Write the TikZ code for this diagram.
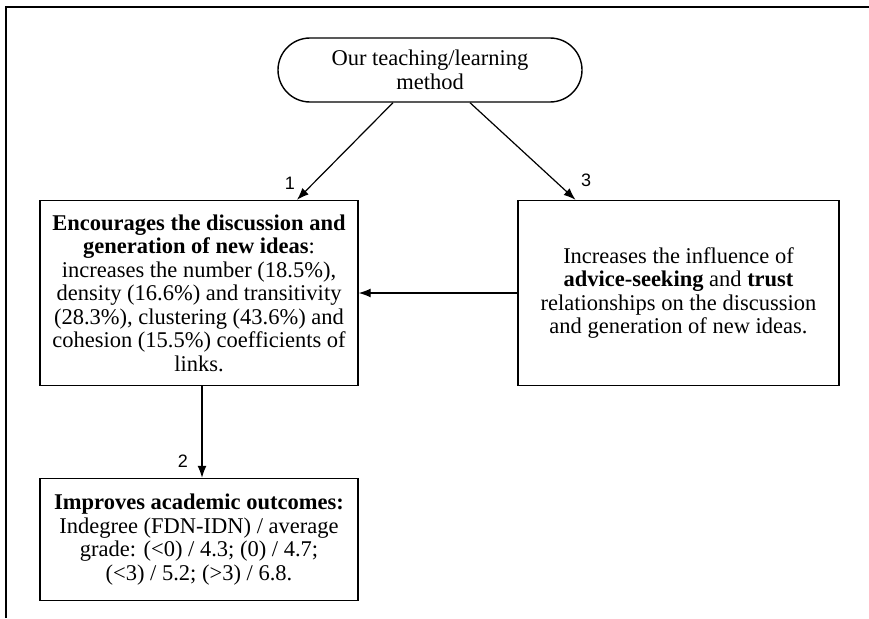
\documentclass[tikz,border=0pt]{standalone}
\usepackage{fontspec}
\setmainfont{Liberation Serif}
\newfontfamily\labelfont{Liberation Sans}
\usetikzlibrary{shapes.misc,arrows.meta}
\tikzset{
  boxnode/.style={draw,line width=1.4pt,align=center,inner sep=0pt,
    font=\fontsize{22.5}{23.5}\selectfont},
  arr/.style={line width=1.2pt,-{Latex[length=12pt,width=9pt]}},
  numlabel/.style={font=\labelfont\fontsize{18}{18}\selectfont,inner sep=0pt},
  frameline/.style={line width=1.4pt}
}
\begin{document}
\begin{tikzpicture}[x=1pt,y=-1pt]
\useasboundingbox (0,0) rectangle (869,618);
\draw[frameline] (6,618) -- (6,7) -- (869,7);

\node[boxnode,rounded rectangle,minimum width=304pt,minimum height=64pt] (top) at (430,70)
  {Our teaching/learning\\method};

\node[boxnode,minimum width=318pt,minimum height=185pt] (left) at (199,293)
  {\textbf{Encourages the discussion and}\\\textbf{generation of new ideas}:\\
   increases the number (18.5\%),\\density (16.6\%) and transitivity\\
   (28.3\%), clustering (43.6\%) and\\cohesion (15.5\%) coefficients of\\links.};

\node[boxnode,minimum width=321pt,minimum height=185pt] (right) at (678.5,293)
  {Increases the influence of\\\textbf{advice-seeking} and \textbf{trust}\\
   relationships on the discussion\\and generation of new ideas.};

\node[boxnode,minimum width=318pt,minimum height=122pt] (bottom) at (199,539.5)
  {\textbf{Improves academic outcomes:}\\Indegree (FDN-IDN) / average\\
   grade: ({<}0) / 4.3; (0) / 4.7;\\({<}3) / 5.2; ({>}3) / 6.8.};

\draw[arr] ([xshift=-37pt]top.south) -- ([xshift=98pt]left.north);
\draw[arr] ([xshift=40pt]top.south) -- ([xshift=-103pt]right.north);
\draw[arr] (right.west) -- (left.east);
\draw[arr] ([xshift=3pt]left.south) -- ([xshift=3pt]bottom.north);

\node[numlabel] (n1) at (290,183) {1};
\node[numlabel] (n3) at (586,180) {3};
\node[numlabel] (n2) at (183,461) {2};
\end{tikzpicture}
\end{document}
